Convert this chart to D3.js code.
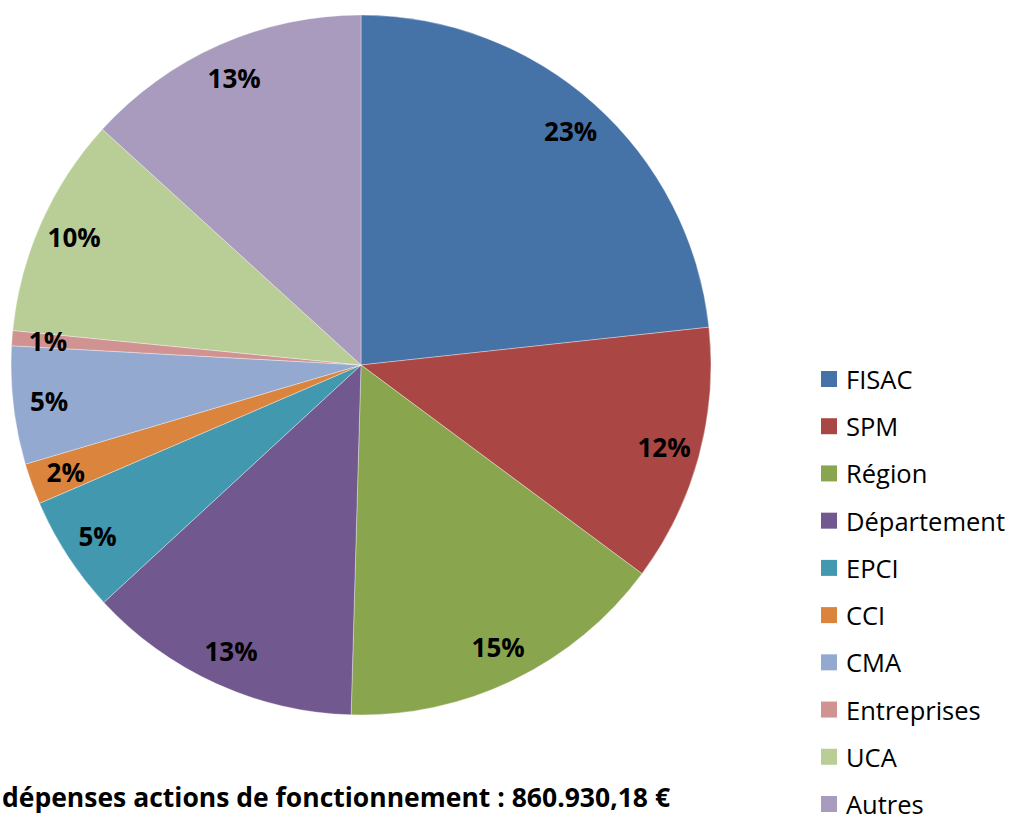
<!DOCTYPE html>
<html lang="fr">
<head>
<meta charset="utf-8">
<script src="https://cdn.jsdelivr.net/npm/d3@7"></script>
<style>
  html, body { margin: 0; padding: 0; background: #fff; }
  svg { display: block; font-family: 'Open Sans', 'Noto Sans', sans-serif; }
</style>
</head>
<body>
<svg id="chart" width="1022" height="814"></svg>
<script>
// Financeurs et parts estimées (%) lues sur le camembert
const financeurs = ['FISAC', 'SPM', 'Région', 'Département', 'EPCI', 'CCI', 'CMA', 'Entreprises', 'UCA', 'Autres'];
const parts = [23.3, 11.9, 15.3, 12.7, 5.4, 1.9, 5.45, 0.7, 10.2, 13.25];
const couleurs = ['#4572A7', '#AA4643', '#89A54E', '#71588F', '#4198AF', '#DB843D', '#93A9CF', '#D19392', '#B9CD96', '#A99BBD'];
const titre = 'dépenses actions de fonctionnement : 860.930,18 €';

const donnees = financeurs.map((nom, i) => ({ nom, valeur: parts[i] }));

const svg = d3.select('#chart');
const centreX = 361;
const centreY = 365;
const rayon = 350;

const couleur = d3.scaleOrdinal().domain(financeurs).range(couleurs);

const camembert = d3.pie().sort(null).value((d) => d.valeur);
const arcs = camembert(donnees);
const total = d3.sum(parts);

const arc = d3.arc().innerRadius(0).outerRadius(rayon);
const arcEtiquette = d3.arc().innerRadius(314).outerRadius(314);

const g = svg.append('g').attr('transform', `translate(${centreX},${centreY})`);

g.selectAll('path.part')
  .data(arcs)
  .enter()
  .append('path')
  .attr('class', 'part')
  .attr('d', arc)
  .attr('fill', (d) => couleur(d.data.nom))
  .attr('stroke', '#ffffff')
  .attr('stroke-opacity', 0.5)
  .attr('stroke-width', 0.7);

const pourcent = (v) => Math.round((v / total) * 100) + '%';

g.selectAll('text.etiquette')
  .data(arcs)
  .enter()
  .append('text')
  .attr('class', 'etiquette')
  .attr('transform', (d) => `translate(${arcEtiquette.centroid(d)})`)
  .attr('text-anchor', 'middle')
  .attr('dominant-baseline', 'central')
  .attr('font-size', 26)
  .attr('font-weight', 700)
  .attr('fill', '#000')
  .text((d) => pourcent(d.data.valeur));

// Légende
const legendeY = d3.scalePoint().domain(financeurs).range([379, 804]);

const legende = svg.append('g').attr('class', 'legende');
const items = legende.selectAll('g.item')
  .data(financeurs)
  .enter()
  .append('g')
  .attr('class', 'item')
  .attr('transform', (d) => `translate(821,${legendeY(d)})`);

items.append('rect')
  .attr('x', 0)
  .attr('y', -8)
  .attr('width', 16)
  .attr('height', 16)
  .attr('fill', (d) => couleur(d));

items.append('text')
  .attr('x', 25)
  .attr('y', 0)
  .attr('dominant-baseline', 'central')
  .attr('font-size', 25.5)
  .attr('fill', '#000')
  .text((d) => d);

// Titre (coupé à gauche comme sur l'original)
svg.append('text')
  .attr('x', 2)
  .attr('y', 807)
  .attr('font-size', 26.5)
  .attr('font-weight', 700)
  .attr('fill', '#000')
  .text(titre);
</script>
</body>
</html>
